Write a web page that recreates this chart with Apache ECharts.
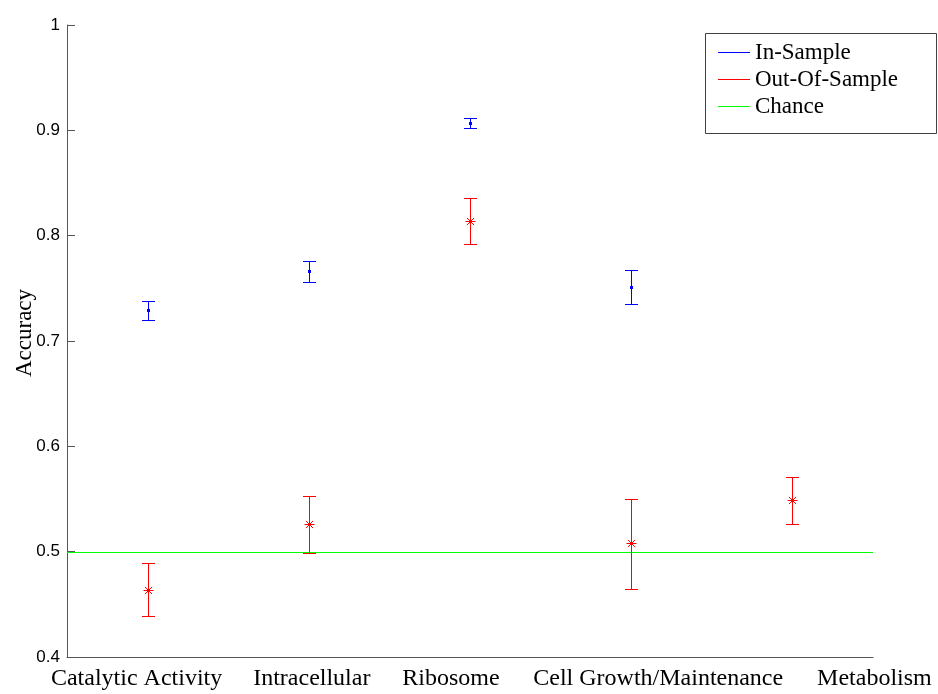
<!DOCTYPE html>
<html>
<head>
<meta charset="utf-8">
<script src="https://cdn.jsdelivr.net/npm/echarts@6/dist/echarts.min.js"></script>
<style>html,body{margin:0;padding:0;background:#fff;}#chart{width:938px;height:694px;}</style>
</head>
<body>
<div id="chart"></div>
<script>
var categories = ['Catalytic Activity', 'Intracellular', 'Ribosome', 'Cell Growth/Maintenance', 'Metabolism'];
var labelShift = [-11, 3, -19, 27, 82];
var inMean = [0.729, 0.766, 0.907, 0.751, null];
var inLow  = [0.720, 0.756, 0.902, 0.735, null];
var inHigh = [0.738, 0.7755, 0.9115, 0.767, null];
var outMean = [0.464, 0.526, 0.814, 0.508, 0.549];
var outLow  = [0.439, 0.499, 0.792, 0.465, 0.526];
var outHigh = [0.489, 0.553, 0.836, 0.550, 0.571];
var chanceLevel = 0.5;

var BLUE = '#0000ff', RED = '#ff0000', GREEN = '#00ff00';

function buildData(mean, low, high) {
  var d = [];
  for (var i = 0; i < mean.length; i++) {
    if (mean[i] != null) d.push([i, mean[i], low[i], high[i]]);
  }
  return d;
}

function ln(x1, y1, x2, y2, color) {
  return {type: 'line', shape: {x1: x1, y1: y1, x2: x2, y2: y2},
          style: {stroke: color, lineWidth: 1, fill: null}};
}

function makeRender(color, marker) {
  return function (params, api) {
    var c = api.coord([api.value(0), api.value(1)]);
    var lo = api.coord([api.value(0), api.value(2)]);
    var hi = api.coord([api.value(0), api.value(3)]);
    var x = Math.round(c[0]) + 0.5;
    var yh = Math.round(hi[1]) + 0.5, yl = Math.round(lo[1]) + 0.5, yc = Math.round(c[1]) + 0.5;
    var cap = 6.5;
    var ch = [
      ln(x, yh, x, yl, color),
      ln(x - cap, yh, x + cap, yh, color),
      ln(x - cap, yl, x + cap, yl, color)
    ];
    if (marker === 'dot') {
      ch.push({type: 'rect', shape: {x: x - 1.5, y: yc - 1.5, width: 3, height: 3}, style: {fill: color}});
    } else {
      var r = 5, d = 3.6;
      ch.push(ln(x - r, yc, x + r, yc, color));
      ch.push(ln(x, yc - r, x, yc + r, color));
      ch.push(ln(x - d, yc - d, x + d, yc + d, color));
      ch.push(ln(x - d, yc + d, x + d, yc - d, color));
    }
    return {type: 'group', children: ch};
  };
}

function renderChance(params, api) {
  var cs = params.coordSys;
  var p = api.coord([0, api.value(1)]);
  var y = Math.round(p[1]) + 0.5;
  return ln(cs.x, y, cs.x + cs.width, y, GREEN);
}

var catData = categories.map(function (c, i) {
  var s = labelShift[i];
  return {value: c, textStyle: {padding: s >= 0 ? [0, 0, 0, 2 * s] : [0, -2 * s, 0, 0]}};
});

var chart = echarts.init(document.getElementById('chart'));
chart.setOption({
  animation: false,
  backgroundColor: '#fff',
  grid: {left: 67, right: 65, top: 25, bottom: 37, containLabel: false, outerBoundsMode: 'none'},
  graphic: [{
    type: 'rect', z: 3,
    shape: {x: 705.5, y: 33.5, width: 231, height: 100},
    style: {fill: 'transparent', stroke: '#404040', lineWidth: 1}
  }],
  legend: {
    orient: 'vertical', left: 718, top: 39, padding: 0, itemGap: 0,
    itemWidth: 32, itemHeight: 1, icon: 'rect',
    textStyle: {fontFamily: 'Liberation Serif', fontSize: 23, lineHeight: 27, color: '#000'},
    data: [
      {name: 'In-Sample', itemStyle: {color: BLUE}},
      {name: 'Out-Of-Sample', itemStyle: {color: RED}},
      {name: 'Chance', itemStyle: {color: GREEN}}
    ]
  },
  xAxis: {
    type: 'category', data: catData, boundaryGap: true,
    axisLine: {lineStyle: {color: '#555', width: 1}},
    axisTick: {show: false},
    splitLine: {show: false},
    axisLabel: {interval: 0, margin: 10, fontFamily: 'Liberation Serif', fontSize: 24, color: '#000'}
  },
  yAxis: {
    type: 'value', min: 0.4, max: 1, interval: 0.1,
    name: 'Accuracy', nameLocation: 'middle', nameGap: 31, nameMoveOverlap: false,
    nameTextStyle: {fontFamily: 'Liberation Serif', fontSize: 23, color: '#000', padding: [0, 0, 0, 16]},
    axisLine: {show: true, lineStyle: {color: '#555', width: 1}},
    axisTick: {show: true, inside: true, length: 8, lineStyle: {color: '#555'}},
    splitLine: {show: false},
    axisLabel: {margin: 7, fontFamily: 'Liberation Sans', fontSize: 17, color: '#000',
      formatter: function (v) { return String(Math.round(v * 10) / 10); }}
  },
  series: [
    {name: 'In-Sample', type: 'custom', color: BLUE, itemStyle: {color: BLUE},
     renderItem: makeRender(BLUE, 'dot'), data: buildData(inMean, inLow, inHigh),
     encode: {x: 0, y: [1, 2, 3]}, z: 5},
    {name: 'Out-Of-Sample', type: 'custom', color: RED, itemStyle: {color: RED},
     renderItem: makeRender(RED, 'star'), data: buildData(outMean, outLow, outHigh),
     encode: {x: 0, y: [1, 2, 3]}, z: 5},
    {name: 'Chance', type: 'custom', color: GREEN, itemStyle: {color: GREEN},
     renderItem: renderChance, data: [[0, chanceLevel]],
     encode: {x: 0, y: 1}, z: 4}
  ]
});
</script>
</body>
</html>
